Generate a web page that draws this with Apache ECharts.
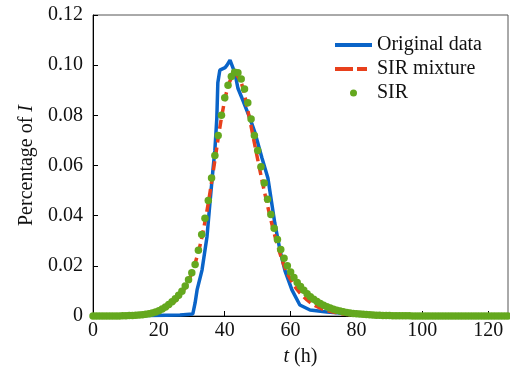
<!DOCTYPE html>
<html><head><meta charset="utf-8">
<script src="https://cdn.jsdelivr.net/npm/echarts@6/dist/echarts.min.js"></script>
<style>html,body{margin:0;padding:0;background:#fff}#c{width:510px;height:377px}</style>
</head><body><div id="c"></div>
<script>
// Original data (blue line): time (h) and share of infected
var blueT = [0, 18, 26.4, 30.3, 31.0, 31.6, 33.1, 34.6, 35.5, 36.4, 37.0, 37.6, 37.9, 38.5, 40.1, 40.7, 41.6, 43.1, 44.0, 45.5, 47.6, 49.2, 51.3, 53.1, 55.2, 56.8, 58.3, 60.4, 62.8, 65.9, 71.0, 75, 80, 126];
var blueI = [0, 0.0002, 0.0004, 0.0008, 0.0052, 0.0104, 0.0183, 0.0315, 0.045, 0.058, 0.066, 0.079, 0.093, 0.098, 0.099, 0.100, 0.102, 0.0968, 0.0908, 0.086, 0.079, 0.073, 0.063, 0.055, 0.037, 0.026, 0.018, 0.0104, 0.0044, 0.0024, 0.0016, 0.0012, 0.0004, 0];
// SIR mixture (red dashed)
var redT = [0, 10, 16, 20, 24, 27, 29, 31, 33, 35, 37, 39, 41, 43, 45, 47, 49, 51, 53, 55, 57, 59, 62, 66, 70, 75, 80, 90, 126];
var redI = [0, 0.0001, 0.0005, 0.0016, 0.0048, 0.0092, 0.014, 0.021, 0.031, 0.045, 0.062, 0.079, 0.0915, 0.0965, 0.093, 0.082, 0.069, 0.056, 0.044, 0.033, 0.024, 0.017, 0.0105, 0.0053, 0.0026, 0.0010, 0.0004, 0.0001, 0];
// SIR (green dots), one per hour from t = 0 to 126
var sirI = [
  0, 0, 0, 0, 0, 0, 0, 0, 0, 0.00005,
  0.0001, 0.00015, 0.0002, 0.0003, 0.0004, 0.0005, 0.0007, 0.0009, 0.0012, 0.0016,
  0.0021, 0.0028, 0.0036, 0.0046, 0.0057, 0.0069, 0.0083, 0.0099, 0.0120, 0.0145,
  0.0172, 0.0205, 0.0262, 0.0325, 0.039, 0.046, 0.055, 0.064, 0.072, 0.080,
  0.087, 0.092, 0.0955, 0.0972, 0.0970, 0.0945, 0.0905, 0.085, 0.0785, 0.072,
  0.066, 0.0595, 0.053, 0.0465, 0.0405, 0.035, 0.0305, 0.0265, 0.023, 0.020,
  0.0175, 0.0153, 0.0134, 0.0118, 0.0103, 0.0089, 0.0077, 0.0067, 0.0058, 0.0050,
  0.0043, 0.0037, 0.0032, 0.0027, 0.0023, 0.0020, 0.0017, 0.0014, 0.0012, 0.0010,
  0.0009, 0.0008, 0.0007, 0.0006, 0.0005, 0.0004, 0.0003, 0.0003, 0.0002, 0.0002,
  0.0002, 0.0001, 0.0001, 0.0001, 0.0001, 0.0001, 0.0001, 0, 0, 0,
  0, 0, 0, 0, 0, 0, 0, 0, 0, 0,
  0, 0, 0, 0, 0, 0, 0, 0, 0, 0,
  0, 0, 0, 0, 0, 0, 0
];
var seriesNames = ['Original data', 'SIR mixture', 'SIR'];
var yTicks = [0, 0.02, 0.04, 0.06, 0.08, 0.10, 0.12];

function pairs(xs, ys) { return xs.map(function (x, i) { return [x, ys[i]]; }); }
var sirData = sirI.map(function (v, i) { return [i, v]; });

var FONT = 'Liberation Serif';
var FS = 20;
var BLUE = '#0a64c8', RED = '#e8401c', GREEN = '#64a81e';
var legTxt = { fontFamily: FONT, fontSize: FS, color: '#111' };
var chart = echarts.init(document.getElementById('c'));
chart.setOption({
  animation: false,
  textStyle: { fontFamily: FONT },
  grid: { left: 93, right: 2, top: 15, bottom: 61, show: true, borderColor: '#555', borderWidth: 1, backgroundColor: 'transparent' },
  legend: [
    { data: [{ name: seriesNames[0], icon: 'rect', itemStyle: { color: BLUE } }], left: 335, top: 35, padding: 0, itemWidth: 37, itemHeight: 4, textStyle: legTxt },
    { data: [{ name: seriesNames[1], icon: 'path://M0,0H18V4H0Z M22,0H32V4H22Z', itemStyle: { color: RED } }], left: 335, top: 59, padding: 0, itemWidth: 32, itemHeight: 4,
      textStyle: { fontFamily: FONT, fontSize: FS, color: '#111', padding: [0, 0, 0, 5] } },
    { data: [{ name: seriesNames[2], icon: 'circle', itemStyle: { color: GREEN } }], left: 350, top: 83, padding: 0, itemWidth: 7, itemHeight: 7,
      textStyle: { fontFamily: FONT, fontSize: FS, color: '#111', padding: [0, 0, 0, 15] } }
  ],
  xAxis: {
    type: 'value', min: 0, max: 126, interval: 20,
    name: '{i|t} (h)', nameLocation: 'middle', nameGap: 31,
    nameTextStyle: { fontFamily: FONT, fontSize: FS, color: '#111', rich: { i: { fontStyle: 'italic', fontFamily: FONT, fontSize: FS } } },
    axisLine: { lineStyle: { color: '#000', width: 1 } },
    axisTick: { inside: true, length: 5, lineStyle: { color: '#000' } },
    axisLabel: { fontFamily: FONT, fontSize: FS, color: '#111', margin: 5, showMaxLabel: false },
    splitLine: { show: false }
  },
  yAxis: {
    type: 'value', min: 0, max: 0.12, interval: 0.02,
    name: 'Percentage of {i|I}', nameLocation: 'middle', nameGap: 55,
    nameTextStyle: { fontFamily: FONT, fontSize: FS, color: '#111', rich: { i: { fontStyle: 'italic', fontFamily: FONT, fontSize: FS } } },
    axisLine: { lineStyle: { color: '#000', width: 1 } },
    axisTick: { inside: true, length: 5, lineStyle: { color: '#000' } },
    axisLabel: { fontFamily: FONT, fontSize: FS, color: '#111', margin: 10,
      formatter: function (v) { return v === 0 ? '0' : v.toFixed(2); } },
    splitLine: { show: false }
  },
  series: [
    { name: seriesNames[0], type: 'line', data: pairs(blueT, blueI), symbol: 'none', showSymbol: false,
      lineStyle: { color: BLUE, width: 3.5 }, itemStyle: { color: BLUE }, z: 2 },
    { name: seriesNames[1], type: 'line', data: pairs(redT, redI), symbol: 'none', showSymbol: false, smooth: 0.3,
      lineStyle: { color: RED, width: 3.5, type: [9, 5] }, itemStyle: { color: RED }, z: 3 },
    { name: seriesNames[2], type: 'scatter', data: sirData, symbol: 'circle', symbolSize: 7.5, clip: false,
      itemStyle: { color: GREEN, opacity: 1 }, z: 4 }
  ]
});
</script></body></html>
